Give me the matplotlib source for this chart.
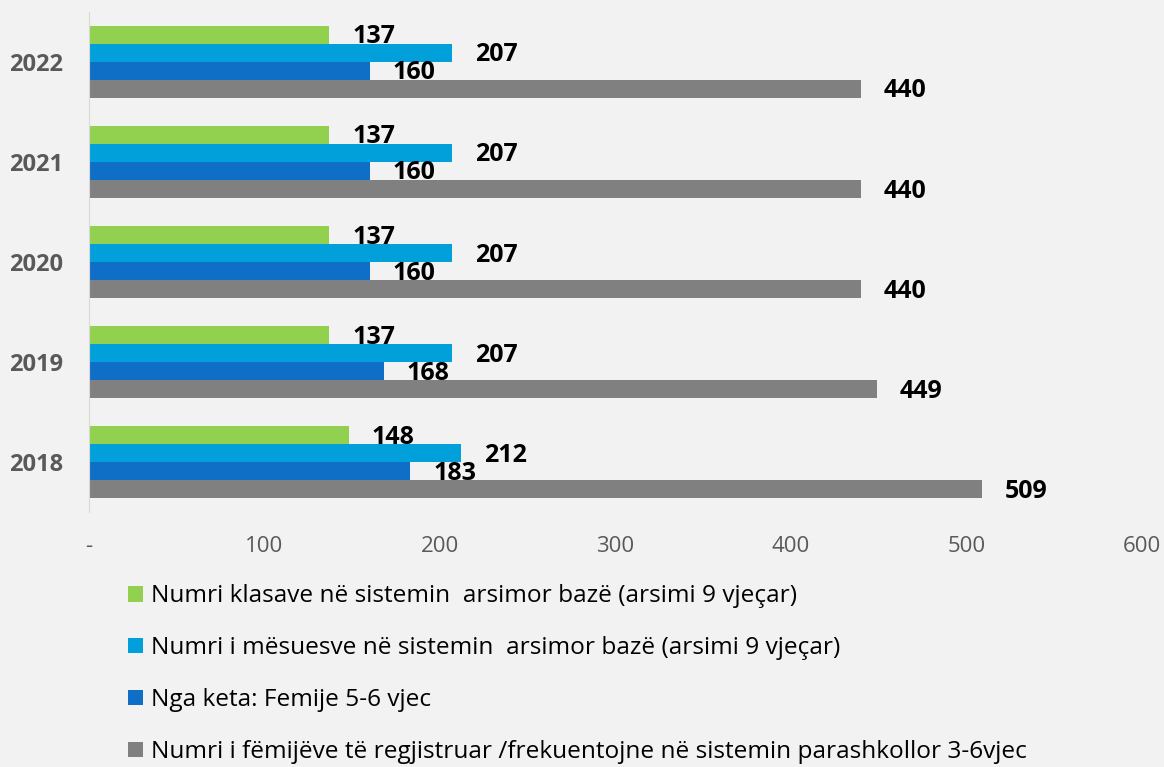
import matplotlib.pyplot as plt
import numpy as np

years = ['2018', '2019', '2020', '2021', '2022']
klasa = [148, 137, 137, 137, 137]
mesues = [212, 207, 207, 207, 207]
femije = [183, 168, 160, 160, 160]
regjistruar = [509, 449, 440, 440, 440]

series_labels = [
    'Numri klasave në sistemin  arsimor bazë (arsimi 9 vjeçar)',
    'Numri i mësuesve në sistemin  arsimor bazë (arsimi 9 vjeçar)',
    'Nga keta: Femije 5-6 vjec',
    'Numri i fëmijëve të regjistruar /frekuentojne në sistemin parashkollor 3-6vjec',
]
x_ticks = [0, 100, 200, 300, 400, 500, 600]
x_ticklabels = ['-', '100', '200', '300', '400', '500', '600']

colors = ['#92D050', '#02A0DA', '#0F6FC6', '#808080']
offsets = [0.27, 0.09, -0.09, -0.27]
bar_h = 0.18

plt.rcParams['font.family'] = ['Open Sans', 'DejaVu Sans']
bg = '#F2F2F2'

fig = plt.figure(figsize=(11.64, 7.67), dpi=100, facecolor=bg)
ax = fig.add_axes([0.0765, 0.3325, 0.9045, 0.652], facecolor=bg)

y = np.arange(len(years))
handles = []
for vals, col, off, lab in zip([klasa, mesues, femije, regjistruar], colors, offsets, series_labels):
    bars = ax.barh(y + off, vals, height=bar_h, color=col, label=lab)
    handles.append(bars)
    for yy, v in zip(y + off, vals):
        ax.annotate(str(v), (v, yy), xytext=(16.5, -1.5), textcoords='offset points',
                    ha='left', va='center', fontsize=18, fontweight='bold', color='black')

ax.set_xlim(0, 600)
ax.set_ylim(-0.5, len(years) - 0.5)
ax.set_xticks(x_ticks)
ax.set_xticklabels(x_ticklabels, fontsize=16, color='#595959')
ax.set_yticks(y)
ax.set_yticklabels(years, fontsize=17, fontweight='bold', color='#595959')
ax.tick_params(length=0)
ax.tick_params(axis='x', pad=17)
ax.tick_params(axis='y', pad=18.5)

for s in ['top', 'right', 'bottom']:
    ax.spines[s].set_visible(False)
ax.spines['left'].set_color('#D9D9D9')

fig.legend(handles=handles, loc='upper left', bbox_to_anchor=(0.110, 0.238),
           frameon=False, fontsize=17.6, handlelength=0.6, handleheight=0.6,
           handletextpad=0.33, labelspacing=1.14, borderaxespad=0, borderpad=0)

plt.savefig('out.png', dpi=100, facecolor=bg)
